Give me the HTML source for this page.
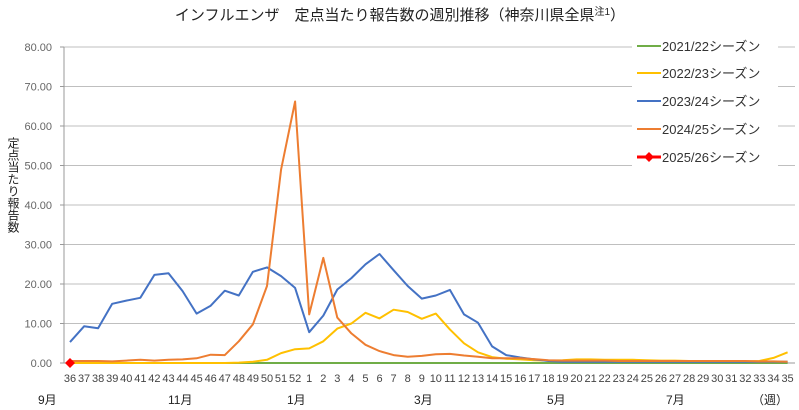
<!DOCTYPE html>
<html><head><meta charset="utf-8"><style>
body{margin:0;background:#fff;}
svg{display:block;font-family:"Liberation Sans","Noto Sans CJK JP",sans-serif;}
</style></head><body>
<svg id="c" width="799" height="410" xmlns="http://www.w3.org/2000/svg">
<text x="400" y="20" font-size="15" text-anchor="middle" fill="#222">インフルエンザ　定点当たり報告数の週別推移（神奈川県全県<tspan font-size="10" dy="-5">注1</tspan><tspan dy="5">）</tspan></text>
<g id="grid"></g>
<text x="13" y="185" font-size="12" fill="#222" text-anchor="middle" style="writing-mode:vertical-rl">定点当たり報告数</text>
<g id="series"></g>
<rect x="632" y="36" width="146" height="134" fill="#fff"/>
<g font-size="13" fill="#333">
<line x1="637" y1="46" x2="661" y2="46" stroke="#70ad47" stroke-width="2"/><text x="662" y="51">2021/22シーズン</text>
<line x1="637" y1="73" x2="661" y2="73" stroke="#ffc000" stroke-width="2"/><text x="662" y="78">2022/23シーズン</text>
<line x1="637" y1="101" x2="661" y2="101" stroke="#4472c4" stroke-width="2"/><text x="662" y="106">2023/24シーズン</text>
<line x1="637" y1="129" x2="661" y2="129" stroke="#ed7d31" stroke-width="2"/><text x="662" y="134">2024/25シーズン</text>
<line x1="637" y1="157" x2="661" y2="157" stroke="#ff0000" stroke-width="3"/><path d="M649 152 L654 157 L649 162 L644 157Z" fill="#ff0000"/><text x="662" y="162">2025/26シーズン</text>
</g>
<g font-size="12" fill="#222">
<text x="38" y="404">9月</text><text x="168" y="404">11月</text><text x="287" y="404">1月</text><text x="414" y="404">3月</text><text x="547" y="404">5月</text><text x="666" y="404">7月</text><text x="752" y="404">（週）</text>
</g>
</svg>
<script>
var x0=70,dx=14.07,y0=363,sy=3.95;
function X(i){return x0+i*dx;}function Y(v){return y0-v*sy;}
var g=document.getElementById('grid'),h='';
for(var k=0;k<=8;k++){var y=Y(k*10);
 if(k>0)h+='<line x1="64" y1="'+y+'" x2="795" y2="'+y+'" stroke="#bfbfbf" stroke-width="1"/>';
 h+='<line x1="60" y1="'+y+'" x2="64" y2="'+y+'" stroke="#999"/>';
 h+='<text x="52" y="'+(y+4)+'" font-size="11" fill="#666" text-anchor="end">'+(k*10).toFixed(2)+'</text>';}
h+='<line x1="64" y1="47" x2="64" y2="363" stroke="#999"/>';
h+='<line x1="64" y1="363" x2="795" y2="363" stroke="#999"/>';
var w=[];for(var i=36;i<=52;i++)w.push(i);for(i=1;i<=35;i++)w.push(i);
for(i=0;i<w.length;i++)h+='<text x="'+X(i)+'" y="382" font-size="11" fill="#444" text-anchor="middle">'+w[i]+'</text>';
g.innerHTML=h;
var blue=[5.3,9.3,8.8,15,15.8,16.5,22.3,22.7,18.2,12.5,14.5,18.3,17.1,23.1,24.2,22,19,7.8,12,18.6,21.5,25,27.6,23.5,19.5,16.3,17.1,18.5,12.3,10.2,4.2,2,1.4,0.9,0.5];
while(blue.length<52)blue.push(0.3);
var ora=[0.5,0.5,0.5,0.4,0.6,0.8,0.6,0.8,0.9,1.2,2.1,2.0,5.5,9.8,19.5,49,66.2,12.3,26.6,11.5,7.5,4.6,3,2,1.6,1.8,2.2,2.3,1.9,1.6,1.2,1.2,1.2,1.0,0.7,0.6,0.6,0.6,0.6,0.5,0.5,0.5,0.5,0.5,0.5,0.5,0.5,0.5,0.5,0.4,0.4,0.3];
var yel=[0,0,0,0,0,0,0,0,0,0,0,0,0.1,0.3,0.8,2.5,3.5,3.7,5.5,8.7,10,12.7,11.3,13.5,12.9,11.2,12.5,8.5,5,2.7,1.5,1.1,0.9,0.7,0.6,0.7,0.9,0.9,0.8,0.8,0.8,0.7,0.6,0.6,0.5,0.5,0.4,0.4,0.4,0.5,1.3,2.7];
var gr=[];for(i=0;i<52;i++)gr.push(0);
function pl(a,c){var p=a.map(function(v,i){return X(i).toFixed(1)+','+Y(v).toFixed(1)}).join(' ');return '<polyline points="'+p+'" fill="none" stroke="'+c+'" stroke-width="2" stroke-linejoin="round"/>';}
document.getElementById('series').innerHTML=pl(gr,'#70ad47')+pl(yel,'#ffc000')+pl(blue,'#4472c4')+pl(ora,'#ed7d31')+'<path d="M70 358 L75 363 L70 368 L65 363Z" fill="#ff0000"/>';
</script>
</body></html>
